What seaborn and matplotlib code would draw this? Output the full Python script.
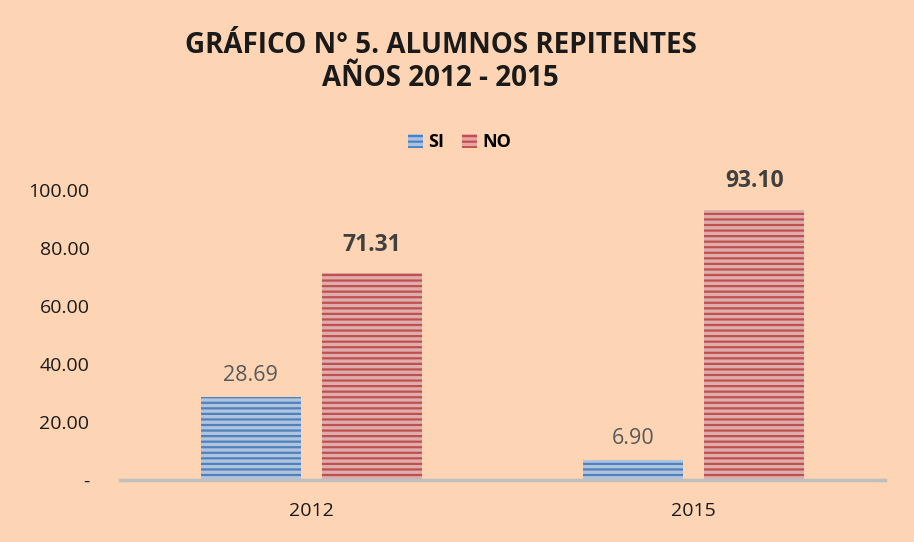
import pandas as pd
import seaborn as sns
import matplotlib.pyplot as plt
from matplotlib.patches import Patch

# Chart values
years = ["2012", "2015"]
si_values = [28.69, 6.90]
no_values = [71.31, 93.10]
series = ["SI", "NO"]

df = pd.DataFrame({
    "year": years * 2,
    "serie": ["SI"] * len(years) + ["NO"] * len(years),
    "valor": si_values + no_values,
})

bg = "#FDD5B4"
fills = {"SI": "#A9C3E6", "NO": "#E8A5A4"}
hatch_cols = {"SI": "#4F81BD", "NO": "#C0504D"}

plt.rcParams["font.family"] = ["Open Sans", "DejaVu Sans"]
plt.rcParams["hatch.linewidth"] = 1.6

fig = plt.figure(figsize=(9.14, 5.42), dpi=100, facecolor=bg)
ax = fig.add_axes([0.1313, 0.1144, 0.8370, 0.535])
ax.set_facecolor(bg)

sns.barplot(data=df, x="year", y="valor", hue="serie", hue_order=series,
            palette=fills, width=0.633, gap=0.174, ax=ax, legend=False)

for cont, s in zip(ax.containers, series):
    for bar in cont:
        bar.set_hatch("---")
        bar.set_edgecolor(hatch_cols[s])
        bar.set_linewidth(0)

# value labels
for cont, s in zip(ax.containers, series):
    if s == "SI":
        ax.bar_label(cont, fmt="%.2f", padding=8, fontsize=15.5, color="#595959")
    else:
        ax.bar_label(cont, fmt="%.2f", padding=12, fontsize=16.5,
                     color="#404040", fontweight="bold")

ax.set_ylim(0, 100)
ax.set_xlim(-0.5, 1.5)
ax.set_yticks([0, 20, 40, 60, 80, 100])
ax.set_yticklabels(["-", "20.00", "40.00", "60.00", "80.00", "100.00"])
ax.tick_params(axis="both", length=0, labelsize=14, colors="#1a1a1a")
ax.tick_params(axis="y", pad=22)
ax.tick_params(axis="x", pad=16)
ax.set_xlabel("")
ax.set_ylabel("")
for sp in ["top", "right", "left"]:
    ax.spines[sp].set_visible(False)
ax.spines["bottom"].set_color("#BFBFBF")
ax.spines["bottom"].set_linewidth(2.5)

# legend
handles = [Patch(facecolor=fills[s], edgecolor=hatch_cols[s], hatch="---", linewidth=0)
           for s in series]
fig.legend(handles, series, loc="center", bbox_to_anchor=(0.503, 0.738),
           ncol=2, frameon=False, handlelength=0.8, handleheight=0.8,
           handletextpad=0.3, columnspacing=1.0,
           prop={"weight": "bold", "size": 13})

fig.text(0.482, 0.916, "GRÁFICO N° 5. ALUMNOS REPITENTES", ha="center", va="center",
         fontsize=20, fontweight="bold", color="#1a1a1a")
fig.text(0.482, 0.855, "AÑOS 2012 - 2015", ha="center", va="center",
         fontsize=20, fontweight="bold", color="#1a1a1a")

fig.savefig("out.png", dpi=100, facecolor=bg)
